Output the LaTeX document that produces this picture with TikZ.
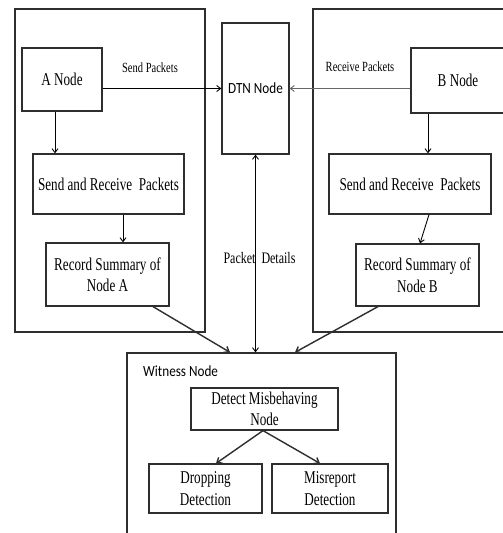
\documentclass[tikz,border=0pt]{standalone}
\usepackage{fontspec}
\setmainfont{Liberation Serif}
\newfontfamily\boxfont[FakeStretch=0.73]{Liberation Serif}
\newfontfamily\lblfont[FakeStretch=0.75]{Liberation Serif}
\newfontfamily\sansf[FakeStretch=0.85]{Carlito}
\usetikzlibrary{arrows.meta}
\definecolor{lineclr}{HTML}{2E2E2E}
\begin{document}
\begin{tikzpicture}[x=1pt,y=-1pt,
  frame/.style={draw=lineclr, line width=1.3pt, inner sep=0pt},
  box/.style={draw=lineclr, line width=1.2pt, inner sep=0pt, align=center,
    font=\boxfont\fontsize{18}{21.5}\selectfont},
  lbl/.style={inner sep=0pt, font=\lblfont\fontsize{14}{16}\selectfont},
  arr/.style={draw=black, line width=0.9pt, -{Straight Barb[length=4pt,width=6pt]}},
  darr/.style={draw=lineclr, line width=1.4pt, -{Straight Barb[length=4.5pt,width=7pt]}}
]
\useasboundingbox (0,0) rectangle (503,533);
\fill[white] (0,0) rectangle (503,533);
\clip (0,0) rectangle (503,533);

% containers
\node[frame, minimum width=190pt, minimum height=323pt] (leftouter) at (110,170.5) {};
\node[frame, minimum width=197pt, minimum height=323pt] (rightouter) at (411.5,170.5) {};
\node[frame, minimum width=269pt, minimum height=183pt] (witness) at (261.5,444.5) {};

% boxes
\node[box, minimum width=80pt, minimum height=63pt] (anode) at (62,79.5) {A Node};
\node[box, minimum width=151pt, minimum height=60pt] (sra) at (108.5,184) {Send and Receive\ \ Packets};
\node[box, minimum width=123pt, minimum height=63pt] (reca) at (107.5,274.5) {Record Summary of\\Node A};
\node[box, minimum width=67pt, minimum height=131pt, font=\sansf\fontsize{15.5}{18}\selectfont] (dtn) at (255.5,88.5) {DTN Node};
\node[box, minimum width=94pt, minimum height=65pt] (bnode) at (458,80.5) {B Node};
\node[box, minimum width=162pt, minimum height=60pt] (srb) at (410,184) {Send and Receive\ \ Packets};
\node[box, minimum width=123pt, minimum height=62pt] (recb) at (417.5,275) {Record Summary of\\Node B};
\node[box, minimum width=147pt, minimum height=42pt] (detect) at (264.5,409) {Detect Misbehaving\\Node};
\node[box, minimum width=113pt, minimum height=49pt] (drop) at (205.5,488.5) {Dropping\\Detection};
\node[box, minimum width=116pt, minimum height=49pt] (misr) at (330,488.5) {Misreport\\Detection};

% labels
\node[inner sep=0pt, anchor=west, font=\sansf\fontsize{15.5}{18}\selectfont] (wlabel) at (143,371) {Witness Node};
\node[lbl] (sendlbl) at (150,68) {Send Packets};
\node[lbl] (recvlbl) at (360,67) {Receive Packets};
\node[lbl, font=\lblfont\fontsize{16}{18}\selectfont] (pdlbl) at (259.5,258) {Packet\ \ Details};

% connectors
\draw[arr] (dtn.west -| anode.east) -- (dtn.west);
\draw[arr, draw=black!60] (dtn.east -| bnode.west) -- (dtn.east);
\draw[arr] ([xshift=-7pt]anode.south) -- ([xshift=-7pt]anode.south |- sra.north);
\draw[arr] ([xshift=14.5pt]sra.south) -- ([xshift=14.5pt]sra.south |- reca.north);
\draw[arr] ([xshift=-30pt]bnode.south) -- ([xshift=-30pt]bnode.south |- srb.north);
\draw[arr] ([xshift=19pt]srb.south) -- ([xshift=2.5pt]recb.north);
\draw[arr, {Straight Barb[length=4pt,width=6pt]}-{Straight Barb[length=4pt,width=6pt]}] (dtn.south) -- (dtn.south |- witness.north);
\draw[darr] ([xshift=45.5pt]reca.south) -- ([xshift=-31.5pt]witness.north);
\draw[darr] ([xshift=-39.5pt]recb.south) -- ([xshift=33.5pt]witness.north);
\draw[darr] ([xshift=-1.5pt]detect.south) -- ([xshift=10.5pt]drop.north);
\draw[darr] ([xshift=-1.5pt]detect.south) -- ([xshift=-10pt]misr.north);
\end{tikzpicture}
\end{document}
